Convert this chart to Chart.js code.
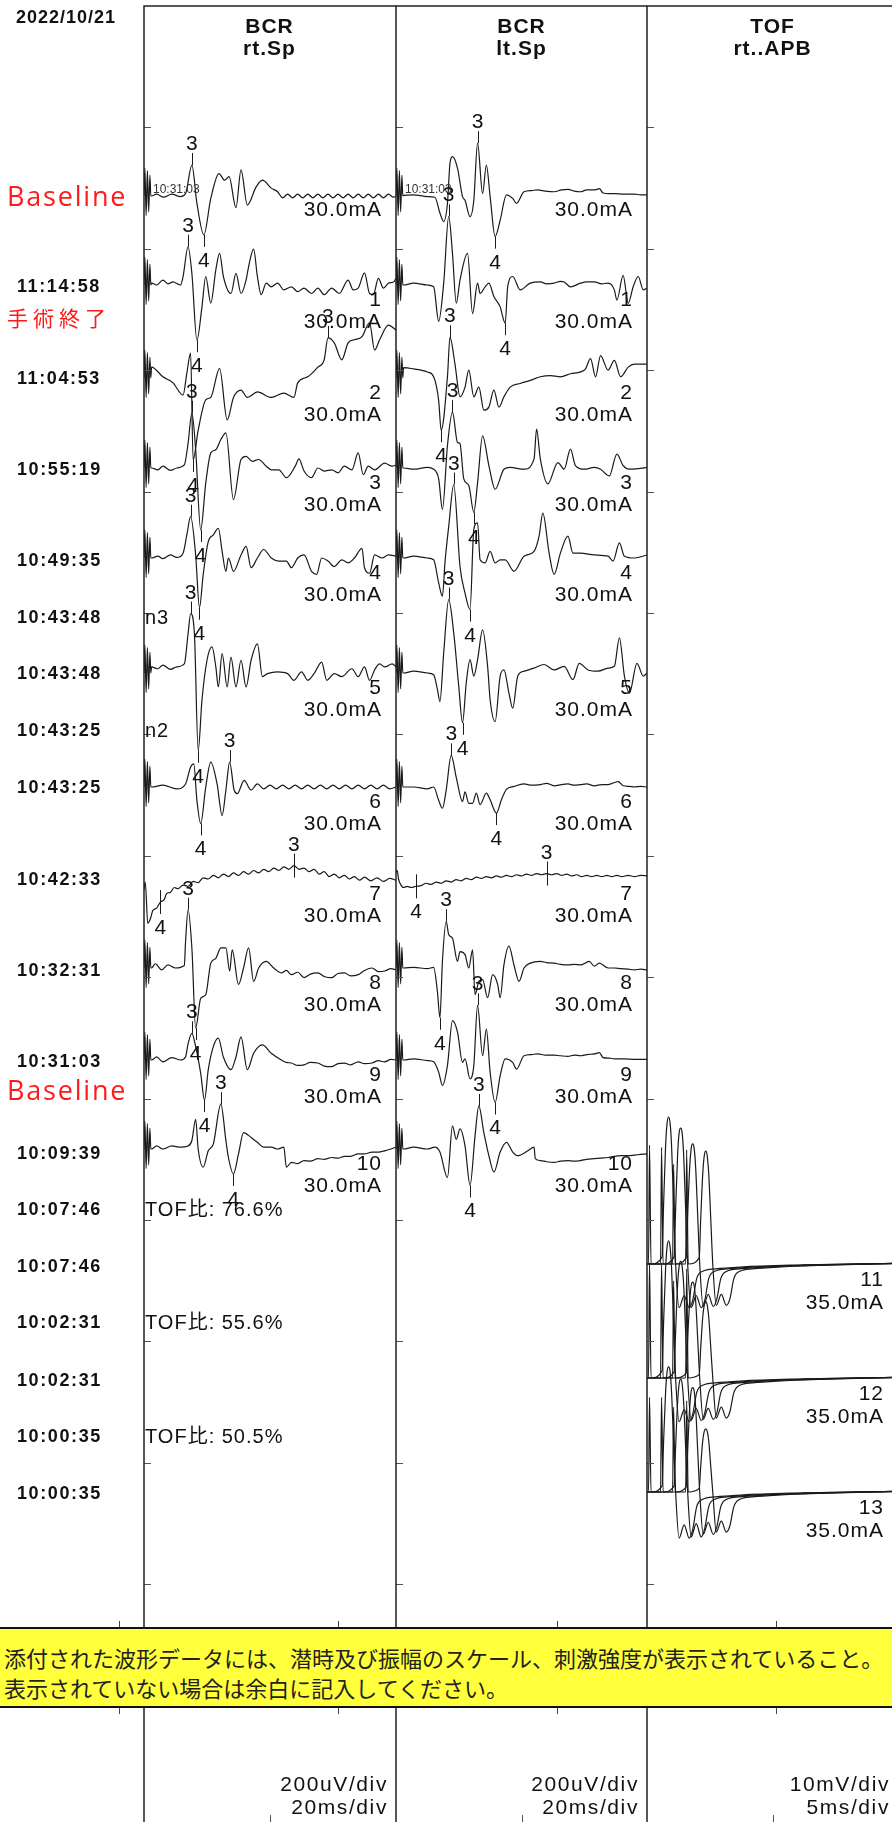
<!DOCTYPE html>
<html>
<head>
<meta charset="utf-8">
<script src="https://cdn.jsdelivr.net/npm/chart.js@4.4.0/dist/chart.umd.min.js"></script>
<style>
  html, body { margin: 0; padding: 0; background: #fff; }
  #page { position: relative; width: 892px; height: 1822px; overflow: hidden; background: #fff;
          font-family: "Liberation Sans", Arial, "Noto Sans CJK JP", sans-serif; color: #111; }
  canvas { position: absolute; top: 0; }
  .txt { position: absolute; white-space: nowrap; line-height: 1; }
  .stamp { font-size: 18px; font-weight: bold; letter-spacing: 1.6px; }
  .red { color: #ff1a1a; font-family: "Open Sans", "Noto Sans", sans-serif; font-size: 27px; letter-spacing: 1.8px; }
  .redjp { color: #ff1a1a; font-family: "Noto Sans CJK JP", sans-serif; font-size: 21px; letter-spacing: 5px; }
  .hdr { position: absolute; width: 251px; text-align: center; font-weight: bold; font-size: 21px;
         line-height: 22px; letter-spacing: 1px; top: 15px; }
  .lbl { font-size: 21px; letter-spacing: 1px; }
  .mark { font-size: 21px; }
  .note { font-size: 20px; letter-spacing: 1px; }
  .tiny { font-size: 12px; color: #333; }
  .scale { font-size: 21px; letter-spacing: 1.6px; }
  #notice { position: absolute; left: 0; top: 1627px; width: 892px; background: #ffff3c;
            border-top: 2px solid #111; border-bottom: 2px solid #111; z-index: 5;
            font-family: "Noto Sans CJK JP", sans-serif; font-size: 22px; line-height: 30px;
            color: #222; padding: 13px 0 0 4px; box-sizing: border-box; height: 81px; white-space: nowrap; }
  .vtick { position: absolute; width: 1px; height: 6px; background: #444; z-index: 6; }
</style>
</head>
<body>
<div id="page">
  <canvas id="rtSp" width="396" height="1822" style="left:0px"></canvas>
  <canvas id="ltSp" width="253" height="1822" style="left:394px"></canvas>
  <canvas id="apb" width="253" height="1822" style="left:645px"></canvas>

  <div class="hdr" style="left:144px">BCR<br>rt.Sp</div>
  <div class="hdr" style="left:396px">BCR<br>lt.Sp</div>
  <div class="hdr" style="left:647px">TOF<br>rt..APB</div>

  <div id="notice">添付された波形データには、潜時及び振幅のスケール、刺激強度が表示されていること。<br>表示されていない場合は余白に記入してください。</div>
</div>
<script>
// ---------------- data ----------------
// BCR: time in ms, amplitude in uV (200uV/div, 20ms/div)
const stimArtifact = [[0,0],[0.7,46],[1.7,-32],[2.7,42],[3.7,-26],[4.7,34],[5.4,0]];

// rt.Sp
const rtSp0 = [[6,0],[10,3],[15.5,-2],[22,3],[29,-1],[33,4],[38,51],[42,-12],[47.5,-64],[53,-4],[59.5,37],[64,26],[67.5,32],[73,-19],[77,43],[82,-15],[89,15],[94,26],[101,13],[106,7],[110,-3],[114,3],[118,-3],[122,3],[126,-3],[130,3],[134,-3],[138,3],[142,-3],[146,3],[150,-3],[154,3],[158,-3],[162,3],[166,-3],[170,3],[174,-3],[178,3],[182,-3],[186,3],[190,-3],[194,3],[198,-2],[200,0]];
const rtSp1 = [[6,3],[10,0],[15,8],[19,2],[23,5],[29,0],[31,14],[35,63],[38,19],[42,-91],[46,-36],[49,14],[53,-30],[57,25],[60,52],[63,14],[69,-14],[73,19],[77,-14],[81,8],[83,30],[87,59],[90,14],[93,-16],[97,3],[101,-3],[106,3],[111,-8],[117,-3],[122,-11],[127,-5],[133,-14],[138,-5],[143,-16],[149,-5],[155,-14],[162,8],[166,-8],[170,-5],[175,20],[179,-14],[182,-16],[186,11],[190,-5],[194,3],[198,5],[200,11]];
const rtSp2 = [[6,18],[15,2],[23,-8],[31,-28],[34,8],[37,41],[39,-135],[43,-86],[49,-36],[53,-32],[60,16],[66,-69],[71,-32],[77,-20],[82,-32],[90,-23],[101,-32],[111,-25],[119,-32],[122,-8],[130,2],[138,18],[143,30],[146,66],[151,58],[157,30],[162,58],[167,63],[173,68],[179,91],[183,46],[187,63],[194,87],[200,79]];
const rtSp3 = [[6,0],[11,-3],[15,3],[21,-4],[26,0],[32,5],[35,41],[38,91],[41,30],[45,-102],[49,-25],[53,25],[57,30],[61,47],[65,58],[71,-52],[77,14],[81,19],[86,11],[91,14],[97,3],[101,-3],[107,-3],[113,-16],[120,3],[123,15],[127,-5],[133,-16],[138,0],[143,-5],[149,-3],[154,-8],[159,3],[165,-3],[170,25],[174,-11],[178,3],[183,-3],[191,8],[197,3],[200,5]];
const rtSp4 = [[6,0],[11,3],[15,-1],[21,5],[26,1],[31,8],[34,38],[37,68],[41,5],[44,-82],[47,-27],[51,27],[55,38],[59,49],[62,11],[65,-22],[67,0],[71,-22],[77,5],[81,19],[85,-16],[90,0],[95,14],[101,0],[107,-5],[113,-5],[117,-16],[122,0],[127,5],[133,-22],[137,-27],[141,0],[146,-5],[151,-14],[157,-3],[162,-8],[167,0],[173,16],[175,-16],[179,-25],[183,5],[189,0],[194,5],[200,3]];
const rtSp5 = [[6,10],[11,7],[15,13],[21,6],[26,10],[32,15],[35,65],[37,98],[40,65],[43,-128],[46,-45],[50,21],[54,43],[57,10],[59,-23],[62,32],[66,-23],[69,26],[73,-23],[77,21],[81,-23],[85,21],[90,48],[94,-6],[98,-1],[106,2],[114,-1],[119,-12],[125,2],[130,-12],[135,-1],[141,18],[145,-12],[151,-1],[157,-6],[165,7],[170,-6],[175,10],[179,-12],[183,5],[187,15],[191,10],[197,15],[200,10]];
const rtSp6 = [[6,0],[15,3],[26,-3],[33,5],[37,33],[39.5,38],[42,-22],[45,-60],[49,0],[53,41],[58,5],[62,-47],[65,-5],[68,41],[71.5,-5],[74,-11],[79.5,11],[85,-5],[90,5],[95,-3],[100,3],[105,-3],[110,3],[115,-3],[120,3],[125,-3],[130,3],[135,-3],[140,3],[145,-3],[150,3],[155,-3],[160,3],[165,-3],[170,3],[175,-3],[180,3],[185,-3],[190,3],[195,-3],[200,0]];
const rtSp7 = [[0,-18],[1,-5],[3,-73],[5,-66],[7,-52],[10,-48],[13,-38],[16,-34],[18,-24],[21,-22],[24,-14],[27,-16],[31,-10],[35,-12],[39,-4],[43,-6],[47,2],[51,0],[55,6],[59,2],[63,8],[67,4],[71,10],[75,6],[79,12],[83,8],[87,14],[91,10],[95,16],[99,12],[103,18],[107,14],[111,20],[115,16],[119,22],[123,16],[127,18],[131,12],[135,16],[139,8],[143,12],[147,4],[151,8],[155,2],[159,6],[163,0],[167,4],[171,-2],[175,3],[180,-3],[185,2],[190,-4],[195,1],[200,-2]];
const rtSp8 = [[6,0],[9,7],[14,-3],[19,5],[25,0],[32,4],[33,44],[35,96],[38,33],[41,-99],[45,-50],[49,-44],[53,8],[57,16],[61,33],[65,33],[68,-5],[70,30],[75,-27],[79,0],[83,33],[87,-22],[91,0],[97,11],[103,0],[109,-8],[113,-4],[117,-11],[122,-7],[127,-16],[132,-10],[138,-8],[143,-14],[149,-16],[154,-9],[159,-8],[164,-13],[170,-11],[175,-4],[181,0],[186,-6],[191,-5],[196,-1],[200,-3]];
const rtSp9 = [[6,0],[10,5],[15,-3],[22,4],[29,0],[33,5],[35,27],[38,44],[41,22],[45,-22],[48,-66],[51,-16],[55,22],[59,36],[63,5],[69,-16],[73,5],[77,38],[82,-16],[87,11],[94,25],[101,11],[109,0],[113,-4],[117,-5],[122,-9],[127,-8],[132,-4],[138,-5],[143,-10],[149,-11],[154,-6],[159,-5],[164,-8],[170,-3],[175,-6],[181,-5],[186,-1],[191,-3],[196,1],[200,0]];
const rtSp10 = [[6,0],[10,5],[15,0],[22,5],[29,3],[35,5],[38,14],[41,49],[43,0],[47,-30],[51,-3],[55,8],[61,74],[65,14],[67,-14],[71,-41],[75,-8],[79,27],[85,19],[90,11],[95,3],[101,3],[106,0],[111,3],[113,-30],[117,-22],[122,-24],[127,-19],[132,-20],[138,-16],[143,-17],[149,-14],[154,-15],[159,-12],[164,-12],[170,-8],[175,-8],[181,-5],[186,-5],[191,-3],[196,0],[200,3]];

// lt.Sp
const ltSp0 = [[6,1],[14,2],[25,-1],[31,-2],[35,-28],[38,-42],[41,-12],[43,54],[45,65],[49,46],[53,-1],[55,-7],[59,-34],[62,-7],[65,87],[69,4],[72,51],[75,-1],[79,-67],[83,-40],[88,2],[93,-4],[96,-12],[102,7],[108,9],[113,10],[119,8],[126,7],[132,10],[137,11],[142,8],[147,7],[152,10],[158,10],[162,12],[165,5],[170,4],[174,4],[182,3],[190,3],[195,2],[200,2]];
const ltSp1 = [[6,0],[14,3],[25,0],[30,-3],[34,-60],[38,3],[42,113],[45,52],[48,-30],[51,8],[57,52],[61,-47],[65,3],[67,-14],[71,-3],[74,3],[78,-19],[83,-36],[87,-63],[89,-3],[93,14],[99,-8],[107,3],[115,5],[120,2],[126,3],[131,6],[134,5],[139,-3],[147,3],[152,5],[158,5],[164,2],[169,3],[174,-8],[176,-25],[181,16],[185,-30],[189,-3],[193,14],[197,-8],[200,-5]];
const ltSp2 = [[6,17],[14,15],[25,10],[30,2],[34,-37],[36,-86],[41,2],[43,67],[47,23],[51,-31],[55,-15],[58,13],[62,-31],[66,-15],[70,-53],[74,-48],[78,-20],[82,-48],[86,-31],[91,-15],[99,-9],[107,-4],[115,2],[123,4],[131,2],[139,7],[147,10],[151,15],[155,32],[159,2],[163,37],[169,13],[174,29],[179,2],[185,18],[190,23],[200,23]];
const ltSp3 = [[6,0],[14,-2],[25,1],[30,-2],[34,-18],[37,-68],[41,37],[45,92],[49,42],[51,40],[54,-18],[58,-29],[62,-73],[65,-24],[69,53],[74,4],[79,-35],[86,-2],[91,1],[102,-2],[110,15],[112,64],[115,15],[121,-26],[129,9],[134,-2],[139,31],[143,4],[150,-2],[158,1],[163,-2],[170,-13],[176,23],[181,4],[186,-2],[193,-1],[200,1]];
const ltSp4 = [[6,0],[14,3],[25,0],[30,-3],[34,-41],[37,-63],[39,-8],[42,52],[46,121],[51,-14],[55,-58],[59,-85],[62,47],[65,58],[67,-3],[71,-8],[75,11],[79,-8],[83,-3],[87,-3],[94,-22],[102,3],[110,11],[114,36],[117,74],[122,8],[126,-27],[131,8],[137,36],[141,8],[147,8],[158,5],[169,3],[173,-5],[178,25],[182,3],[190,0],[200,5]];
const ltSp5 = [[6,0],[14,3],[25,0],[30,-3],[33,-27],[35,-47],[38,33],[42,121],[46,66],[50,-22],[53,-82],[56,-16],[59,22],[62,-5],[65,22],[69,71],[73,11],[75,-44],[79,-80],[83,-5],[86,5],[90,-33],[93,-58],[97,-5],[102,3],[110,8],[118,14],[126,5],[134,11],[141,-11],[146,16],[153,5],[161,3],[169,8],[174,11],[178,58],[182,-5],[186,-33],[192,16],[197,-5],[200,0]];
const ltSp6 = [[6,0],[14,0],[25,-3],[30,0],[34,-22],[37,-35],[40,-5],[44,52],[48,16],[53,-24],[55,-8],[58,-27],[61,-27],[64,-10],[67,-29],[72,-10],[75,-21],[80,-43],[84,-21],[88,-4],[94,1],[102,5],[108,3],[115,4],[120,6],[126,2],[132,4],[137,5],[142,3],[147,4],[152,5],[158,2],[164,4],[169,4],[177,9],[181,2],[186,1],[190,0],[195,1],[200,0]];
const ltSp7 = [[0,11],[1,14],[2,0],[4,-10],[6,-14],[9,-12],[12,-14],[16,-12],[20,-11],[24,-7],[28,-9],[32,-5],[36,-7],[40,-3],[44,-5],[48,-1],[52,-3],[56,1],[60,-1],[64,3],[68,1],[72,4],[76,2],[80,5],[84,3],[88,6],[92,4],[96,7],[100,5],[104,8],[108,6],[112,9],[116,7],[120,9],[124,7],[128,9],[132,6],[136,8],[140,5],[144,7],[148,4],[152,6],[156,4],[160,6],[164,4],[168,6],[172,4],[176,6],[180,4],[185,6],[190,4],[195,6],[200,5]];
const ltSp8 = [[6,0],[14,1],[25,-1],[30,1],[33,-39],[35,-82],[37,11],[40,77],[42,55],[45,49],[49,11],[51,27],[55,22],[58,0],[61,30],[63,-44],[66,-22],[69,-19],[73,-49],[77,-11],[81,-27],[83,-49],[86,5],[90,36],[94,5],[98,-22],[102,0],[107,8],[115,11],[120,9],[126,8],[131,6],[137,5],[142,6],[147,5],[154,11],[158,3],[162,8],[169,0],[174,0],[179,-1],[185,-2],[190,-3],[195,-2],[200,-3]];
const ltSp9 = [[6,0],[14,2],[25,-1],[30,-3],[34,-20],[37,-42],[41,-9],[45,65],[49,46],[53,-4],[55,2],[59,-31],[62,-9],[65,90],[69,7],[72,51],[75,-20],[79,-70],[83,-26],[87,2],[93,-4],[96,-15],[102,7],[108,9],[113,10],[119,8],[126,8],[131,7],[137,6],[142,8],[147,7],[152,9],[158,10],[162,12],[165,4],[170,3],[174,2],[182,2],[190,1],[195,1],[200,1]];
const ltSp10 = [[6,0],[14,3],[25,0],[31,3],[35,-5],[41,-47],[45,38],[48,16],[51,33],[55,5],[59,-60],[63,22],[66,71],[70,27],[74,-11],[78,-38],[83,-5],[88,11],[93,-5],[97,-11],[105,-3],[110,3],[111,-16],[115,-19],[120,-21],[126,-22],[131,-20],[137,-19],[142,-20],[147,-19],[152,-17],[158,-16],[163,-15],[169,-14],[174,-12],[179,-11],[185,-11],[190,-10],[195,-9],[200,-8]];

// latency marks 3 / 4 on each trace: [ms, uV, label, crossing]
const rtSpMarks = [
  [[38,51,'3'],[47.5,-64,'4']], [[35,63,'3'],[42,-91,'4']], [[146,66,'3'],[39,-135,'4']],
  [[38,91,'3'],[45,-102,'4']], [[37,68,'3'],[44,-82,'4']], [[37,98,'3'],[43,-128,'4']],
  [[68,41,'3'],[45,-60,'4']], [[119,22,'3',1],[13,-38,'4',1]], [[35,96,'3'],[41,-99,'4']],
  [[38,44,'3'],[48,-66,'4']], [[61,74,'3'],[71,-41,'4']]
];
const ltSpMarks = [
  [[65,87,'3'],[79,-67,'4']], [[42,113,'3'],[87,-63,'4']], [[43,67,'3'],[36,-86,'4']],
  [[45,92,'3'],[62,-73,'4']], [[46,121,'3'],[59,-85,'4']], [[42,121,'3'],[53,-82,'4']],
  [[44,52,'3'],[80,-43,'4']], [[120,9,'3',1],[16,-12,'4',1]], [[40,77,'3'],[35,-82,'4']],
  [[65,90,'3'],[79,-70,'4']], [[66,71,'3'],[59,-60,'4']]
];

// TOF rt..APB: time in ms, amplitude in mV (10mV/div, 5ms/div), four superimposed responses per train
const tof11a = [[0,0],[0.3,0],[0.5,9.8],[0.8,0],[3.0,0.6],[3.3,4.8],[3.7,9.7],[4.0,11.6],[4.3,12.1],[4.6,11.6],[4.9,9.7],[5.3,4.8],[5.7,0],[6.4,-3.6],[7.4,-2.6],[8.4,-3.6],[9.1,-3.0],[9.9,-1.2],[11.1,-0.6],[13.6,-0.4],[18.6,-0.25],[28.6,-0.1],[50,0.05]];
const tof11b = [[0,0],[2.7,0],[2.9,9.6],[3.2,0],[5.4,0.6],[5.7,4.5],[6.1,9.0],[6.4,10.8],[6.7,11.2],[7.0,10.8],[7.3,9.0],[7.7,4.5],[8.1,0],[8.8,-3.6],[9.8,-2.6],[10.8,-3.6],[11.5,-3.0],[12.3,-1.2],[13.5,-0.6],[16.0,-0.4],[21.0,-0.25],[31.0,-0.1],[50,0.05]];
const tof11c = [[0,0],[5.1,0],[5.3,8.2],[5.6,0],[7.8,0.5],[8.1,4.0],[8.5,7.9],[8.8,9.5],[9.1,9.9],[9.4,9.5],[9.7,7.9],[10.1,4.0],[10.5,0],[11.2,-3.5],[12.2,-2.5],[13.2,-3.5],[13.9,-2.9],[14.7,-1.2],[15.9,-0.6],[18.4,-0.4],[23.4,-0.25],[33.4,-0.1],[50,0.05]];
const tof11d = [[0,0],[7.7,0],[7.9,9.4],[8.2,0],[10.4,0.5],[10.7,3.7],[11.1,7.4],[11.4,8.9],[11.7,9.3],[12.0,8.9],[12.3,7.4],[12.7,3.7],[13.1,0],[13.8,-3.4],[14.8,-2.5],[15.8,-3.4],[16.5,-2.9],[17.3,-1.2],[18.5,-0.6],[21.0,-0.4],[26.0,-0.25],[36.0,-0.1],[50,0.05]];
const tof12a = [[0,0],[0.3,0],[0.5,9.5],[0.8,0],[3.0,0.6],[3.3,4.5],[3.7,9.0],[4.0,10.8],[4.3,11.3],[4.6,10.8],[4.9,9.0],[5.3,4.5],[5.7,0],[6.4,-3.6],[7.4,-2.6],[8.4,-3.6],[9.1,-3.0],[9.9,-1.2],[11.1,-0.6],[13.6,-0.4],[18.6,-0.25],[28.6,-0.1],[50,0.05]];
const tof12b = [[0,0],[2.7,0],[2.9,9.5],[3.2,0],[5.4,0.5],[5.7,3.8],[6.1,7.7],[6.4,9.2],[6.7,9.6],[7.0,9.2],[7.3,7.7],[7.7,3.8],[8.1,0],[8.8,-3.5],[9.8,-2.5],[10.8,-3.5],[11.5,-2.9],[12.3,-1.2],[13.5,-0.6],[16.0,-0.4],[21.0,-0.25],[31.0,-0.1],[50,0.05]];
const tof12c = [[0,0],[5.1,0],[5.3,8.0],[5.6,0],[7.8,0.4],[8.1,3.2],[8.5,6.3],[8.8,7.6],[9.1,7.9],[9.4,7.6],[9.7,6.3],[10.1,3.2],[10.5,0],[11.2,-3.4],[12.2,-2.5],[13.2,-3.4],[13.9,-2.9],[14.7,-1.2],[15.9,-0.6],[18.4,-0.4],[23.4,-0.25],[33.4,-0.1],[50,0.05]];
const tof12d = [[0,0],[7.7,0],[7.9,9.0],[8.2,0],[10.4,0.3],[10.7,2.5],[11.1,5.0],[11.4,6.0],[11.7,6.3],[12.0,6.0],[12.3,5.0],[12.7,2.5],[13.1,0],[13.8,-3.3],[14.8,-2.4],[15.8,-3.3],[16.5,-2.8],[17.3,-1.2],[18.5,-0.6],[21.0,-0.4],[26.0,-0.25],[36.0,-0.1],[50,0.05]];
const tof13a = [[0,0],[0.3,0],[0.5,7.8],[0.8,0],[3.0,0.5],[3.3,4.1],[3.7,8.2],[4.0,9.9],[4.3,10.3],[4.6,9.9],[4.9,8.2],[5.3,4.1],[5.7,0],[6.4,-3.8],[7.4,-2.7],[8.4,-3.8],[9.1,-3.1],[9.9,-1.2],[11.1,-0.6],[13.6,-0.4],[18.6,-0.25],[28.6,-0.1],[50,0.05]];
const tof13b = [[0,0],[2.7,0],[2.9,7.8],[3.2,0],[5.4,0.5],[5.7,3.7],[6.1,7.4],[6.4,8.9],[6.7,9.3],[7.0,8.9],[7.3,7.4],[7.7,3.7],[8.1,0],[8.8,-3.7],[9.8,-2.6],[10.8,-3.7],[11.5,-3.0],[12.3,-1.2],[13.5,-0.6],[16.0,-0.4],[21.0,-0.25],[31.0,-0.1],[50,0.05]];
const tof13c = [[0,0],[5.1,0],[5.3,7.0],[5.6,0],[7.8,0.4],[8.1,3.4],[8.5,6.9],[8.8,8.3],[9.1,8.6],[9.4,8.3],[9.7,6.9],[10.1,3.4],[10.5,0],[11.2,-3.5],[12.2,-2.5],[13.2,-3.5],[13.9,-2.9],[14.7,-1.2],[15.9,-0.6],[18.4,-0.4],[23.4,-0.25],[33.4,-0.1],[50,0.05]];
const tof13d = [[0,0],[7.7,0],[7.9,7.5],[8.2,0],[10.4,0.3],[10.7,2.1],[11.1,4.2],[11.4,5.0],[11.7,5.2],[12.0,5.0],[12.3,4.2],[12.7,2.1],[13.1,0],[13.8,-3.3],[14.8,-2.4],[15.8,-3.3],[16.5,-2.8],[17.3,-1.2],[18.5,-0.6],[21.0,-0.4],[26.0,-0.25],[36.0,-0.1],[50,0.05]];

const traceNumbers = ['', '1', '2', '3', '4', '5', '6', '7', '8', '9', '10'];
const tofNumbers = ['11', '12', '13'];
const bcrIntensity = '30.0mA';
const tofIntensity = '35.0mA';
const tofRatios = ['76.6%', '55.6%', '50.5%'];
const recordDate = '2022/10/21';
const timeStamps = ['11:14:58', '11:04:53', '10:55:19', '10:49:35', '10:43:48', '10:43:48', '10:43:25', '10:43:25',
                    '10:42:33', '10:32:31', '10:31:03', '10:09:39', '10:07:46', '10:07:46', '10:02:31', '10:02:31',
                    '10:00:35', '10:00:35'];
const overlayTime = '10:31:03';

// ---------------- layout ----------------
const DIV_PX = 121.4;
const TOP_PX = 6;
const PAGE_H = 1822;
const Y_MIN = -(PAGE_H - TOP_PX) / DIV_PX;
const UV_PER_DIV = 200;
const MV_PER_DIV = 10;
const BCR_ROWS = [196, 285, 378, 468, 558, 673, 787, 879, 968, 1060, 1149];
const TOF_ROWS = [1264, 1378, 1492];
const STAMP_ROWS = [286, 378, 469, 560, 617, 673, 730, 787, 879, 970, 1061, 1153, 1209, 1266, 1322, 1380, 1436, 1493];
const LINE_COLOR = '#1a1a1a';

function rowDiv(px) { return (px - TOP_PX) / DIV_PX; }

const page = document.getElementById('page');

function addText(txt, left, top, cls, align) {
  const d = document.createElement('div');
  d.className = 'txt ' + cls;
  d.textContent = txt;
  d.style.left = left + 'px';
  d.style.top = top + 'px';
  const tx = align === 'right' ? '-100%' : align === 'center' ? '-50%' : '0';
  d.style.transform = 'translate(' + tx + ', -50%)';
  page.appendChild(d);
  return d;
}

function traceDataset(points, row, perDiv, artifact) {
  const pts = artifact ? stimArtifact.concat(points.filter(p => p[0] > 5.4)) : points;
  return {
    data: pts.map(p => ({ x: p[0], y: -rowDiv(row) + p[1] / perDiv })),
    borderColor: LINE_COLOR,
    borderWidth: 1.2,
    pointRadius: 0,
    fill: false,
    cubicInterpolationMode: 'monotone'
  };
}

// marks drawn on the canvas, their digits placed as text afterwards
const panelMarks = {};

const panelFrame = {
  id: 'panelFrame',
  afterDatasetsDraw(chart) {
    const { ctx, chartArea: a, scales: { x, y } } = chart;
    ctx.save();
    ctx.strokeStyle = '#555';
    ctx.lineWidth = 1;
    for (let d = 1; d <= 14; d++) {
      const py = Math.round(y.getPixelForValue(-d)) + 0.5;
      ctx.beginPath(); ctx.moveTo(a.left, py); ctx.lineTo(a.left + 7, py); ctx.stroke();
    }
    const mx = Math.round(x.getPixelForValue((x.min + x.max) / 2)) + 0.5;
    ctx.beginPath(); ctx.moveTo(mx, a.bottom - 7); ctx.lineTo(mx, a.bottom); ctx.stroke();

    ctx.strokeStyle = '#222';
    ctx.lineWidth = 1.5;
    ctx.beginPath();
    ctx.moveTo(a.left, a.bottom); ctx.lineTo(a.left, a.top); ctx.lineTo(a.right, a.top);
    ctx.stroke();

    ctx.strokeStyle = LINE_COLOR;
    ctx.lineWidth = 1;
    (panelMarks[chart.canvas.id] || []).forEach(m => {
      const px = Math.round(x.getPixelForValue(m.t)) + 0.5;
      const py = y.getPixelForValue(m.y);
      const up = m.label === '3';
      let y0 = py, y1 = up ? py - 12 : py + 12;
      if (m.cross) { y0 = py - 12; y1 = py + 12; }
      ctx.beginPath(); ctx.moveTo(px, y0); ctx.lineTo(px, y1); ctx.stroke();
    });
    ctx.restore();
  }
};

function makeChart(id, padLeft, xMax, datasets) {
  return new Chart(document.getElementById(id), {
    type: 'line',
    data: { datasets: datasets },
    options: {
      responsive: false,
      animation: false,
      events: [],
      layout: { padding: { left: padLeft, top: TOP_PX, right: 0, bottom: 0 } },
      scales: {
        x: { type: 'linear', min: 0, max: xMax, display: false },
        y: { type: 'linear', min: Y_MIN, max: 0, display: false }
      },
      plugins: { legend: { display: false }, tooltip: { enabled: false }, colors: { enabled: false } }
    },
    plugins: [panelFrame]
  });
}

function collectMarks(id, marks) {
  panelMarks[id] = [];
  marks.forEach((list, i) => list.forEach(m => {
    panelMarks[id].push({ t: m[0], y: -rowDiv(BCR_ROWS[i]) + m[1] / UV_PER_DIV, label: m[2], cross: !!m[3] });
  }));
}

const rtSpTraces = [rtSp0, rtSp1, rtSp2, rtSp3, rtSp4, rtSp5, rtSp6, rtSp7, rtSp8, rtSp9, rtSp10];
const ltSpTraces = [ltSp0, ltSp1, ltSp2, ltSp3, ltSp4, ltSp5, ltSp6, ltSp7, ltSp8, ltSp9, ltSp10];
const tofTrains = [[tof11a, tof11b, tof11c, tof11d], [tof12a, tof12b, tof12c, tof12d], [tof13a, tof13b, tof13c, tof13d]];

collectMarks('rtSp', rtSpMarks);
collectMarks('ltSp', ltSpMarks);

const charts = [
  { id: 'rtSp', left: 0, chart: makeChart('rtSp', 144, 200,
      rtSpTraces.map((t, i) => traceDataset(t, BCR_ROWS[i], UV_PER_DIV, i !== 7))) },
  { id: 'ltSp', left: 394, chart: makeChart('ltSp', 2, 200,
      ltSpTraces.map((t, i) => traceDataset(t, BCR_ROWS[i], UV_PER_DIV, i !== 7))) },
  { id: 'apb', left: 645, chart: makeChart('apb', 2, 50,
      tofTrains.flatMap((train, i) => train.map(s => traceDataset(s, TOF_ROWS[i], MV_PER_DIV, false)))) }
];

// ---------------- texts ----------------
addText(recordDate, 16, 17, 'stamp', 'left').style.letterSpacing = '1px';
timeStamps.forEach((s, i) => addText(s, 17, STAMP_ROWS[i], 'stamp', 'left'));
addText('Baseline', 7, 195, 'red', 'left');
addText('Baseline', 7, 1089, 'red', 'left');
addText('手術終了', 7, 317, 'redjp', 'left');
addText('n3', 145, 617, 'note', 'left');
addText('n2', 145, 730, 'note', 'left');
tofRatios.forEach((r, i) => addText('TOF比: ' + r, 145, [1209, 1322, 1436][i], 'note', 'left'));

charts.forEach(c => {
  const ch = c.chart;
  const a = ch.chartArea;
  const x = ch.scales.x, y = ch.scales.y;
  const right = c.left + a.right - 14;
  if (c.id === 'apb') {
    TOF_ROWS.forEach((r, i) => {
      const py = y.getPixelForValue(-rowDiv(r));
      addText(tofNumbers[i], right, py + 14, 'lbl', 'right');
      addText(tofIntensity, right, py + 37, 'lbl', 'right');
    });
    return;
  }
  BCR_ROWS.forEach((r, i) => {
    const py = y.getPixelForValue(-rowDiv(r));
    if (i === 0) {
      addText(bcrIntensity, right, py + 12, 'lbl', 'right');
      addText(overlayTime, c.left + a.left + 9, py - 7, 'tiny', 'left');
    } else {
      addText(traceNumbers[i], right, py + 13, 'lbl', 'right');
      addText(bcrIntensity, right, py + 35, 'lbl', 'right');
    }
  });
  panelMarks[c.id].forEach(m => {
    const px = c.left + x.getPixelForValue(m.t);
    const py = y.getPixelForValue(m.y);
    const up = m.label === '3';
    addText(m.label, px, up ? py - 23 : py + 24, 'mark', 'center');
  });
});

// scale captions under each panel
[['200uV/div', '20ms/div', 388], ['200uV/div', '20ms/div', 639], ['10mV/div', '5ms/div', 890]].forEach(s => {
  addText(s[0], s[2], 1783, 'scale', 'right');
  addText(s[1], s[2], 1806, 'scale', 'right');
});

// small ticks above and below the notice band
[119, 338, 557, 776].forEach(px => {
  [1621, 1708].forEach(py => {
    const t = document.createElement('div');
    t.className = 'vtick';
    t.style.left = px + 'px';
    t.style.top = py + 'px';
    page.appendChild(t);
  });
});
</script>
</body>
</html>
